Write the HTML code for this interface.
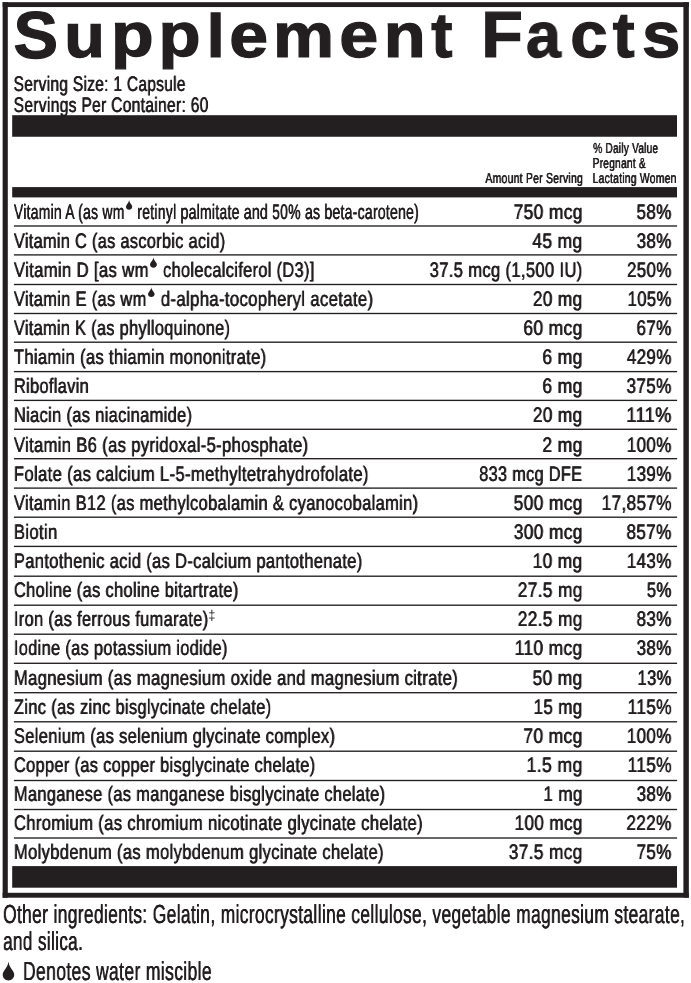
<!DOCTYPE html>
<html lang="en">
<head>
<meta charset="utf-8">
<title>Supplement Facts</title>
<style>
html,body{margin:0;padding:0;background:#fff}
body{width:691px;height:983px;position:relative;overflow:hidden;font-family:"Liberation Sans", sans-serif;color:#231f20}
.t{position:absolute;left:0;top:0;white-space:nowrap;line-height:1;transform-origin:0 0;color:#231f20;display:block;will-change:transform;text-rendering:geometricPrecision;letter-spacing:0.02em;-webkit-text-stroke:0.12px #231f20;text-shadow:0.34px 0 0 #231f20,-0.34px 0 0 #231f20}
.h{-webkit-text-stroke:1.2px #231f20;text-shadow:none;letter-spacing:0}
.dg{-webkit-text-stroke:0;text-shadow:none}
.hd{-webkit-text-stroke:0.15px #231f20;text-shadow:0.28px 0 0 #231f20,-0.28px 0 0 #231f20}
.ft{-webkit-text-stroke:0.15px #231f20;text-shadow:0.3px 0 0 #231f20,-0.3px 0 0 #231f20}
svg.g{position:absolute;left:0;top:0;fill:#231f20}
</style>
</head>
<body>
<svg class="g" width="691" height="983" viewBox="0 0 691 983"><rect x="2.65" y="2.20" width="686.20" height="4.85"/><rect x="2.65" y="892.80" width="686.20" height="4.90"/><rect x="2.65" y="2.20" width="5.15" height="895.50"/><rect x="683.40" y="2.20" width="5.45" height="895.50"/><rect x="12.20" y="115.20" width="664.80" height="21.55"/><rect x="12.20" y="187.10" width="664.80" height="10.30"/><rect x="12.20" y="866.10" width="664.80" height="21.60"/><rect x="13.90" y="225.32" width="663.20" height="1.35"/><rect x="13.90" y="254.22" width="663.20" height="1.35"/><rect x="13.90" y="283.82" width="663.20" height="1.35"/><rect x="13.90" y="312.82" width="663.20" height="1.35"/><rect x="13.90" y="341.52" width="663.20" height="1.35"/><rect x="13.90" y="370.93" width="663.20" height="1.35"/><rect x="13.90" y="399.72" width="663.20" height="1.35"/><rect x="13.90" y="428.62" width="663.20" height="1.35"/><rect x="13.90" y="458.02" width="663.20" height="1.35"/><rect x="13.90" y="487.43" width="663.20" height="1.35"/><rect x="13.90" y="516.53" width="663.20" height="1.35"/><rect x="13.90" y="545.73" width="663.20" height="1.35"/><rect x="13.90" y="575.53" width="663.20" height="1.35"/><rect x="13.90" y="604.53" width="663.20" height="1.35"/><rect x="13.90" y="633.53" width="663.20" height="1.35"/><rect x="13.90" y="662.62" width="663.20" height="1.35"/><rect x="13.90" y="692.03" width="663.20" height="1.35"/><rect x="13.90" y="721.12" width="663.20" height="1.35"/><rect x="13.90" y="750.53" width="663.20" height="1.35"/><rect x="13.90" y="779.83" width="663.20" height="1.35"/><rect x="13.90" y="808.83" width="663.20" height="1.35"/><rect x="13.90" y="837.33" width="663.20" height="1.35"/><path transform="translate(126.00,199.80) scale(0.0620,0.0685)" d="M50 0 C53 30 70 50 86 70 C96 83 100 92 100 102 C100 128 78 146 50 146 C22 146 0 128 0 102 C0 92 4 83 14 70 C30 50 47 30 50 0 Z"/><path transform="translate(150.00,257.20) scale(0.0690,0.0726)" d="M50 0 C53 30 70 50 86 70 C96 83 100 92 100 102 C100 128 78 146 50 146 C22 146 0 128 0 102 C0 92 4 83 14 70 C30 50 47 30 50 0 Z"/><path transform="translate(148.00,287.20) scale(0.0660,0.0671)" d="M50 0 C53 30 70 50 86 70 C96 83 100 92 100 102 C100 128 78 146 50 146 C22 146 0 128 0 102 C0 92 4 83 14 70 C30 50 47 30 50 0 Z"/><path transform="translate(2.70,961.60) scale(0.1150,0.1288)" d="M50 0 C53 30 70 50 86 70 C96 83 100 92 100 102 C100 128 78 146 50 146 C22 146 0 128 0 102 C0 92 4 83 14 70 C30 50 47 30 50 0 Z"/></svg>
<span class="t h" style="font-size:66.57px;font-weight:700;transform:translate(13.50px,3.00px) scaleX(1.0039)">S</span>
<span class="t h" style="font-size:61.69px;font-weight:700;transform:translate(64.26px,6.00px) scaleX(1.0776)">u</span>
<span class="t h" style="font-size:61.59px;font-weight:700;transform:translate(111.01px,5.00px) scaleX(1.1343)">p</span>
<span class="t h" style="font-size:61.6px;font-weight:700;transform:translate(158.56px,5.00px) scaleX(1.1186)">p</span>
<span class="t h" style="font-size:60.83px;font-weight:700;transform:translate(206.65px,6.00px) scaleX(1.0580)">l</span>
<span class="t h" style="font-size:62.89px;font-weight:700;transform:translate(229.21px,5.00px) scaleX(1.1101)">e</span>
<span class="t h" style="font-size:62.63px;font-weight:700;transform:translate(272.94px,5.00px) scaleX(1.0971)">m</span>
<span class="t h" style="font-size:64.23px;font-weight:700;transform:translate(339.14px,3.00px) scaleX(1.0931)">e</span>
<span class="t h" style="font-size:62.57px;font-weight:700;transform:translate(383.85px,5.00px) scaleX(1.0966)">n</span>
<span class="t h" style="font-size:63.02px;font-weight:700;transform:translate(431.13px,5.00px) scaleX(1.0086)">t</span>
<span class="t h" style="font-size:65.12px;font-weight:700;transform:translate(481.35px,2.00px) scaleX(1.0455)">F</span>
<span class="t h" style="font-size:64.03px;font-weight:700;transform:translate(526.03px,3.00px) scaleX(0.9784)">a</span>
<span class="t h" style="font-size:64.18px;font-weight:700;transform:translate(570.14px,3.00px) scaleX(1.0487)">c</span>
<span class="t h" style="font-size:63.79px;font-weight:700;transform:translate(612.67px,4.00px) scaleX(1.0269)">t</span>
<span class="t h" style="font-size:63.99px;font-weight:700;transform:translate(641.92px,3.00px) scaleX(1.0777)">s</span>
<span class="t" style="font-size:21px;transform:translate(13.63px,74.00px) scaleX(0.7364)">Serving Size: 1 Capsule</span>
<span class="t" style="font-size:21px;transform:translate(13.67px,95.00px) scaleX(0.7412)">Servings Per Container: 60</span>
<span class="t hd" style="font-size:14.5px;transform:translate(485.36px,172.00px) scaleX(0.7235)">Amount Per Serving</span>
<span class="t hd" style="font-size:14.5px;transform:translate(593.17px,142.00px) scaleX(0.7001)">% Daily Value</span>
<span class="t hd" style="font-size:14.5px;transform:translate(592.55px,157.00px) scaleX(0.7077)">Pregnant &amp;</span>
<span class="t hd" style="font-size:14.5px;transform:translate(592.54px,172.00px) scaleX(0.7194)">Lactating Women</span>
<span class="t" style="font-size:21px;transform:translate(13.90px,202.00px) scaleX(0.6611)">Vitamin A (as wm</span>
<span class="t" style="font-size:21px;transform:translate(513.60px,202.00px) scaleX(0.8287)">750 mcg</span>
<span class="t" style="font-size:21px;transform:translate(636.50px,202.00px) scaleX(0.8132)">58%</span>
<span class="t" style="font-size:21px;transform:translate(13.90px,231.00px) scaleX(0.7756)">Vitamin C (as ascorbic acid)</span>
<span class="t" style="font-size:21px;transform:translate(532.37px,231.00px) scaleX(0.8298)">45 mg</span>
<span class="t" style="font-size:21px;transform:translate(636.61px,231.00px) scaleX(0.8101)">38%</span>
<span class="t" style="font-size:21px;transform:translate(13.90px,260.00px) scaleX(0.7946)">Vitamin D [as wm</span>
<span class="t" style="font-size:21px;transform:translate(429.62px,260.00px) scaleX(0.7901)">37.5 mcg (1,500 IU)</span>
<span class="t" style="font-size:21px;transform:translate(626.98px,260.00px) scaleX(0.8070)">250%</span>
<span class="t" style="font-size:21px;transform:translate(13.90px,289.00px) scaleX(0.7817)">Vitamin E (as wm</span>
<span class="t" style="font-size:21px;transform:translate(532.87px,289.00px) scaleX(0.8213)">20 mg</span>
<span class="t" style="font-size:21px;transform:translate(627.62px,289.00px) scaleX(0.7950)">105%</span>
<span class="t" style="font-size:21px;transform:translate(13.90px,318.00px) scaleX(0.7765)">Vitamin K (as phylloquinone)</span>
<span class="t" style="font-size:21px;transform:translate(523.35px,318.00px) scaleX(0.8308)">60 mcg</span>
<span class="t" style="font-size:21px;transform:translate(636.45px,318.00px) scaleX(0.8136)">67%</span>
<span class="t" style="font-size:21px;transform:translate(13.90px,347.00px) scaleX(0.7883)">Thiamin (as thiamin mononitrate)</span>
<span class="t" style="font-size:21px;transform:translate(542.34px,347.00px) scaleX(0.8350)">6 mg</span>
<span class="t" style="font-size:21px;transform:translate(626.85px,347.00px) scaleX(0.8094)">429%</span>
<span class="t" style="font-size:21px;transform:translate(13.90px,376.00px) scaleX(0.7795)">Riboflavin</span>
<span class="t" style="font-size:21px;transform:translate(542.34px,376.00px) scaleX(0.8350)">6 mg</span>
<span class="t" style="font-size:21px;transform:translate(626.50px,376.00px) scaleX(0.8152)">375%</span>
<span class="t" style="font-size:21px;transform:translate(13.90px,405.00px) scaleX(0.7829)">Niacin (as niacinamide)</span>
<span class="t" style="font-size:21px;transform:translate(532.87px,405.00px) scaleX(0.8213)">20 mg</span>
<span class="t" style="font-size:21px;transform:translate(626.29px,405.00px) scaleX(0.8692)">111%</span>
<span class="t" style="font-size:21px;transform:translate(13.90px,435.00px) scaleX(0.7910)">Vitamin B6 (as pyridoxal-5-phosphate)</span>
<span class="t" style="font-size:21px;transform:translate(542.37px,435.00px) scaleX(0.8344)">2 mg</span>
<span class="t" style="font-size:21px;transform:translate(626.78px,435.00px) scaleX(0.8101)">100%</span>
<span class="t" style="font-size:21px;transform:translate(13.90px,464.00px) scaleX(0.7927)">Folate (as calcium L-5-methyltetrahydrofolate)</span>
<span class="t" style="font-size:21px;transform:translate(479.21px,464.00px) scaleX(0.7751)">833 mcg DFE</span>
<span class="t" style="font-size:21px;transform:translate(626.78px,464.00px) scaleX(0.8101)">139%</span>
<span class="t" style="font-size:21px;transform:translate(13.90px,493.00px) scaleX(0.7835)">Vitamin B12 (as methylcobalamin &amp; cyanocobalamin)</span>
<span class="t" style="font-size:21px;transform:translate(513.65px,493.00px) scaleX(0.8280)">500 mcg</span>
<span class="t" style="font-size:21px;transform:translate(601.68px,493.00px) scaleX(0.8177)">17,857%</span>
<span class="t" style="font-size:21px;transform:translate(13.90px,522.00px) scaleX(0.7934)">Biotin</span>
<span class="t" style="font-size:21px;transform:translate(513.75px,522.00px) scaleX(0.8268)">300 mcg</span>
<span class="t" style="font-size:21px;transform:translate(626.47px,522.00px) scaleX(0.8157)">857%</span>
<span class="t" style="font-size:21px;transform:translate(13.90px,551.00px) scaleX(0.7864)">Pantothenic acid (as D-calcium pantothenate)</span>
<span class="t" style="font-size:21px;transform:translate(532.67px,551.00px) scaleX(0.8246)">10 mg</span>
<span class="t" style="font-size:21px;transform:translate(626.78px,551.00px) scaleX(0.8101)">143%</span>
<span class="t" style="font-size:21px;transform:translate(13.90px,580.00px) scaleX(0.7821)">Choline (as choline bitartrate)</span>
<span class="t" style="font-size:21px;transform:translate(517.72px,580.00px) scaleX(0.8247)">27.5 mg</span>
<span class="t" style="font-size:21px;transform:translate(646.80px,580.00px) scaleX(0.7985)">5%</span>
<span class="t" style="font-size:21px;transform:translate(13.90px,609.00px) scaleX(0.7813)">Iron (as ferrous fumarate)</span>
<span class="t" style="font-size:21px;transform:translate(517.72px,609.00px) scaleX(0.8247)">22.5 mg</span>
<span class="t" style="font-size:21px;transform:translate(636.58px,609.00px) scaleX(0.8113)">83%</span>
<span class="t" style="font-size:21px;transform:translate(13.90px,638.00px) scaleX(0.7792)">Iodine (as potassium iodide)</span>
<span class="t" style="font-size:21px;transform:translate(514.66px,638.00px) scaleX(0.8281)">110 mcg</span>
<span class="t" style="font-size:21px;transform:translate(636.61px,638.00px) scaleX(0.8101)">38%</span>
<span class="t" style="font-size:21px;transform:translate(13.90px,668.00px) scaleX(0.7916)">Magnesium (as magnesium oxide and magnesium citrate)</span>
<span class="t" style="font-size:21px;transform:translate(532.60px,668.00px) scaleX(0.8269)">50 mg</span>
<span class="t" style="font-size:21px;transform:translate(637.52px,668.00px) scaleX(0.7890)">13%</span>
<span class="t" style="font-size:21px;transform:translate(13.90px,697.00px) scaleX(0.7838)">Zinc (as zinc bisglycinate chelate)</span>
<span class="t" style="font-size:21px;transform:translate(533.60px,697.00px) scaleX(0.8099)">15 mg</span>
<span class="t" style="font-size:21px;transform:translate(627.59px,697.00px) scaleX(0.8231)">115%</span>
<span class="t" style="font-size:21px;transform:translate(13.90px,726.00px) scaleX(0.7858)">Selenium (as selenium glycinate complex)</span>
<span class="t" style="font-size:21px;transform:translate(523.35px,726.00px) scaleX(0.8308)">70 mcg</span>
<span class="t" style="font-size:21px;transform:translate(626.78px,726.00px) scaleX(0.8101)">100%</span>
<span class="t" style="font-size:21px;transform:translate(13.90px,755.00px) scaleX(0.7804)">Copper (as copper bisglycinate chelate)</span>
<span class="t" style="font-size:21px;transform:translate(526.50px,755.00px) scaleX(0.8435)">1.5 mg</span>
<span class="t" style="font-size:21px;transform:translate(627.59px,755.00px) scaleX(0.8231)">115%</span>
<span class="t" style="font-size:21px;transform:translate(13.90px,784.00px) scaleX(0.7815)">Manganese (as manganese bisglycinate chelate)</span>
<span class="t" style="font-size:21px;transform:translate(543.39px,784.00px) scaleX(0.8134)">1 mg</span>
<span class="t" style="font-size:21px;transform:translate(636.61px,784.00px) scaleX(0.8101)">38%</span>
<span class="t" style="font-size:21px;transform:translate(13.90px,813.00px) scaleX(0.7923)">Chromium (as chromium nicotinate glycinate chelate)</span>
<span class="t" style="font-size:21px;transform:translate(514.59px,813.00px) scaleX(0.8161)">100 mcg</span>
<span class="t" style="font-size:21px;transform:translate(626.37px,813.00px) scaleX(0.8175)">222%</span>
<span class="t" style="font-size:21px;transform:translate(13.90px,842.00px) scaleX(0.7888)">Molybdenum (as molybdenum glycinate chelate)</span>
<span class="t" style="font-size:21px;transform:translate(508.75px,842.00px) scaleX(0.8234)">37.5 mcg</span>
<span class="t" style="font-size:21px;transform:translate(636.51px,842.00px) scaleX(0.8127)">75%</span>
<span class="t" style="font-size:21px;transform:translate(137.30px,202.00px) scaleX(0.6640)">retinyl palmitate and 50% as beta-carotene)</span>
<span class="t" style="font-size:21px;transform:translate(163.02px,260.00px) scaleX(0.7800)">cholecalciferol (D3)]</span>
<span class="t" style="font-size:21px;transform:translate(160.84px,289.00px) scaleX(0.7961)">d-alpha-tocopheryl acetate)</span>
<span class="t dg" style="font-size:14px;transform:translate(208.27px,608.00px) scaleX(0.8996)">‡</span>
<span class="t ft" style="font-size:26px;transform:translate(3.04px,901.00px) scaleX(0.6690)">Other ingredients: Gelatin, microcrystalline cellulose, vegetable magnesium stearate,</span>
<span class="t ft" style="font-size:26px;transform:translate(3.04px,928.00px) scaleX(0.6604)">and silica.</span>
<span class="t ft" style="font-size:26px;transform:translate(23.00px,958.00px) scaleX(0.6745)">Denotes water miscible</span>
</body>
</html>
